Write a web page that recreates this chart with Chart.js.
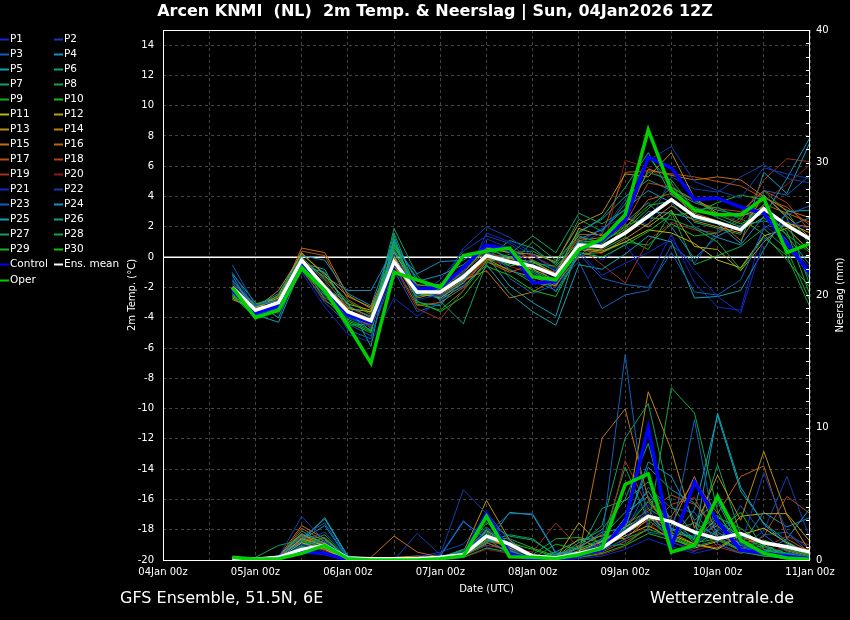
<!DOCTYPE html>
<html>
<head>
<meta charset="utf-8">
<script src="https://cdn.jsdelivr.net/npm/chart.js@4"></script>
<style>
html,body{margin:0;padding:0;background:#000;}
canvas{display:block;}
</style>
</head>
<body>
<canvas id="c" width="850" height="620"></canvas>
<script>
// ---------- DATA ----------
const titleText = 'Arcen KNMI  (NL)  2m Temp. & Neerslag | Sun, 04Jan2026 12Z';
const footerLeft = 'GFS Ensemble, 51.5N, 6E';
const footerRight = 'Wetterzentrale.de';
const xTitle = 'Date (UTC)';
const yTitle = '2m Temp. (°C)';
const y2Title = 'Neerslag (mm)';
const xLabels = ['04Jan 00z','05Jan 00z','06Jan 00z','07Jan 00z','08Jan 00z','09Jan 00z','10Jan 00z','11Jan 00z'];
// forecast hours since 04Jan 00z
const hours = [18,24,30,36,42,48,54,60,66,72,78,84,90,96,102,108,114,120,126,132,138,144,150,156,162,168];

// 2m temperature (°C)
const T_P1  = [-1.8,-3.4,-3.2,-0.5,-2.6,-4.0,-4.6,-0.8,-2.8,-2.5,-1.0,1.2,0.6,-0.5,-1.6,0.4,-1.2,-0.4,0.3,1.2,-0.9,-2.6,-3.7,1.1,2.4,1.8];
const T_P2  = [-2.2,-3.6,-3.4,-0.2,-1.6,-3.8,-4.4,0.2,-2.5,-2.0,0.6,2.0,1.3,0.2,-1.0,0.9,1.6,3.8,6.4,7.3,5.0,4.4,3.9,5.9,5.5,5.2];
const T_P3  = [-0.5,-3.2,-2.8,-0.1,-2.2,-4.8,-5.4,-0.2,-2.1,-2.6,-1.6,0.4,-0.8,-1.5,-2.2,0.2,-1.4,-1.8,-2.0,0.3,-2.3,-2.5,-1.5,1.9,2.8,3.4];
const T_P4  = [-1.6,-3.3,-2.4,0.1,-0.2,-2.4,-3.2,1.1,-1.6,-1.2,-0.5,0.8,-0.2,-1.0,-1.8,1.2,1.8,3.2,4.4,3.6,2.0,1.3,0.8,2.7,5.2,7.9];
const T_P5  = [-1.2,-3.8,-4.3,-0.6,-1.0,-3.2,-4.0,0.5,-2.0,-2.8,-1.9,-0.5,-2.4,-3.6,-4.5,-0.5,-0.8,0.2,1.4,1.0,-2.7,-2.6,-2.2,0.5,3.0,3.1];
const T_P6  = [-2.0,-3.2,-2.9,-0.4,-2.0,-3.0,-5.9,1.4,-3.0,-3.2,-1.4,0.3,-0.6,-0.2,-0.9,1.6,2.6,4.6,6.9,4.1,3.3,2.6,2.0,3.5,1.4,-0.5];
const T_P7  = [-2.4,-3.7,-3.3,-0.7,-2.4,-3.9,-4.3,1.9,-1.2,-2.9,-4.4,-0.4,0.2,1.4,0.3,2.9,2.2,3.1,5.6,5.1,3.1,3.3,2.5,4.1,2.6,-1.9];
const T_P8  = [-2.6,-3.9,-3.1,-0.5,-2.8,-4.1,-4.8,0.9,-2.6,-2.2,-1.1,0.0,-0.5,1.0,-0.2,1.4,0.9,2.1,2.6,2.5,1.9,1.0,-0.8,1.3,0.1,-3.3];
const T_P9  = [-2.3,-3.1,-2.6,0.0,-1.4,-2.9,-3.8,0.7,-1.9,-1.8,-0.9,0.5,0.0,-0.4,-0.6,1.0,1.1,1.8,3.2,4.6,3.8,2.8,2.2,2.9,1.7,-2.5];
const T_P10 = [-2.5,-4.0,-3.6,-0.9,-2.5,-4.3,-5.0,1.2,-2.9,-3.6,-2.6,-0.6,-1.2,-2.2,-2.6,0.3,0.0,0.8,1.7,2.8,2.9,3.6,4.1,3.8,0.6,-1.0];
const T_P11 = [-2.1,-3.3,-2.7,-0.2,-1.8,-3.4,-3.6,0.0,-2.2,-2.4,-1.2,0.2,-0.4,-0.8,-1.5,0.6,0.4,1.0,1.8,1.6,0.9,-0.2,-0.7,1.4,1.9,0.4];
const T_P12 = [-2.7,-3.5,-2.5,0.3,-1.2,-3.1,-3.5,-0.6,-2.4,-2.7,-1.7,-0.2,-0.1,-0.3,-1.1,1.9,1.4,2.6,2.0,3.1,0.7,0.5,-0.9,1.0,2.3,1.6];
const T_P13 = [-2.8,-3.4,-2.2,0.2,-1.1,-2.6,-3.3,0.3,-2.0,-2.1,-0.8,0.6,0.3,0.2,-0.3,2.2,2.9,5.5,5.3,6.9,3.9,2.9,2.7,3.3,2.2,2.0];
const T_P14 = [-2.3,-3.6,-3.0,-0.3,-1.9,-3.6,-4.2,-0.4,-2.7,-2.3,-1.4,-0.1,-0.9,-1.3,-1.9,0.5,0.3,1.2,2.2,3.4,2.4,2.0,1.6,4.1,2.7,1.3];
const T_P15 = [-2.6,-3.3,-2.8,0.6,0.3,-2.5,-3.4,-0.1,-2.1,-2.5,-1.5,-0.9,-2.7,-2.3,-1.4,1.1,1.3,2.4,5.8,5.4,5.1,5.3,5.1,4.0,3.1,2.6];
const T_P16 = [-1.9,-3.1,-2.9,-0.1,-1.5,-3.3,-3.9,-0.5,-3.2,-3.0,-2.0,-0.3,-1.0,-0.5,-1.7,0.0,0.6,1.9,3.8,4.2,2.9,2.4,1.1,3.5,2.9,2.3];
const T_P17 = [-2.2,-3.7,-3.1,0.4,0.1,-2.8,-3.7,-0.1,-1.8,-2.0,-1.0,0.4,0.6,-0.2,-1.2,1.5,1.5,5.6,5.7,5.5,5.3,5.0,4.7,3.9,3.3,2.1];
const T_P18 = [-2.0,-3.4,-2.6,-0.6,-2.7,-3.5,-4.7,-0.3,-2.3,-2.0,-1.3,0.0,-0.3,-0.6,-1.0,1.3,1.0,2.2,4.9,4.6,3.7,3.2,3.0,4.4,3.6,1.7];
const T_P19 = [-1.7,-3.5,-3.2,-0.8,-2.9,-3.7,-4.5,-0.6,-3.4,-4.1,-2.2,0.3,-0.1,0.1,-0.7,0.7,-0.5,-1.7,1.1,2.3,1.8,1.6,2.4,5.1,6.5,6.3];
const T_P20 = [-2.4,-3.6,-3.3,-0.2,-1.9,-3.3,-4.1,-0.2,-2.2,-2.6,-1.6,-0.1,-0.6,-1.1,-2.0,0.8,0.2,6.4,5.9,4.8,3.3,2.9,2.3,3.7,4.8,6.1];
const T_P21 = [-1.4,-3.8,-3.5,-1.0,-3.3,-5.1,-5.6,-2.7,-3.9,-2.9,-1.8,1.6,1.0,0.1,-0.8,0.8,-0.2,0.9,-1.4,1.5,-1.7,-3.3,-3.5,2.1,1.0,-0.7];
const T_P22 = [-2.0,-3.5,-3.0,-0.3,-2.2,-3.7,-4.2,-0.5,-2.6,-1.5,0.4,1.4,0.9,-0.3,-1.4,1.0,1.9,2.7,2.1,5.3,4.5,4.3,5.3,6.1,5.2,4.9];
const T_P23 = [-1.0,-3.4,-3.7,-0.8,-3.0,-4.4,-5.2,-0.9,-3.6,-3.1,-0.6,0.9,-1.4,-2.4,-1.8,-0.3,-3.4,-2.5,-2.2,0.8,-0.4,1.7,2.9,4.4,4.1,5.4];
const T_P24 = [-1.5,-3.2,-2.6,-0.2,-1.3,-2.2,-2.2,0.6,-1.1,-0.3,-0.2,0.7,0.4,-0.7,-2.3,0.1,1.2,2.3,3.6,2.0,-0.1,1.4,2.1,2.4,2.0,2.6];
const T_P25 = [-1.1,-3.0,-4.0,-0.4,-0.8,-3.6,-4.9,0.8,-1.4,-2.4,-1.4,0.1,-1.9,-3.0,-3.9,0.9,0.8,1.5,3.0,2.9,2.5,2.2,0.9,5.6,4.2,7.6];
const T_P26 = [-2.2,-3.5,-2.9,-0.1,-2.1,-4.5,-4.4,1.6,-2.3,-2.7,-1.6,-0.1,1.1,0.6,-0.5,1.7,2.5,4.0,5.1,4.4,3.6,3.1,2.8,2.9,1.1,-1.4];
const T_P27 = [-2.5,-3.6,-3.2,-0.6,-2.3,-4.0,-4.6,1.0,-2.4,-2.1,-1.0,0.6,0.3,0.4,-0.4,2.5,1.7,3.5,6.6,4.9,2.3,1.9,1.5,4.4,3.0,0.8];
const T_P28 = [-2.3,-3.8,-3.4,-0.5,-2.4,-3.9,-4.5,0.4,-2.4,-2.3,-1.2,0.2,0.0,-0.9,-1.6,0.6,0.5,1.3,0.5,3.0,-0.5,0.1,0.7,1.9,0.5,-2.9];
const T_P29 = [-2.4,-3.9,-3.5,-0.3,-2.2,-4.2,-4.9,0.2,-3.1,-3.5,-2.2,-0.3,-0.8,-1.7,-1.9,0.2,0.3,1.0,0.8,2.2,1.4,1.6,2.6,1.5,-0.2,-2.0];
const T_P30 = [-2.1,-3.4,-3.3,-0.4,-2.0,-3.5,-4.2,0.0,-2.5,-2.6,-1.5,0.0,-0.4,-0.3,-1.1,1.0,1.0,2.0,3.4,3.7,2.6,2.4,1.8,2.6,1.5,0.3];
const T_CTRL = [-2.2,-3.7,-3.2,-0.3,-2.1,-3.8,-4.3,-0.4,-2.1,-2.0,-0.7,0.8,0.5,-1.7,-1.6,0.5,1.1,2.4,6.6,5.9,3.8,3.9,3.3,2.9,0.9,-1.1];
const T_MEAN = [-2.0,-3.5,-3.0,-0.2,-2.0,-3.6,-4.2,-0.3,-2.3,-2.3,-1.3,0.1,-0.3,-0.6,-1.2,0.8,0.7,1.6,2.7,3.8,2.7,2.3,1.8,3.2,2.1,1.2];
const T_OPER = [-2.0,-4.0,-3.5,-0.7,-2.2,-4.5,-7.0,-1.0,-1.5,-2.0,0.1,0.4,0.6,-1.3,-1.5,0.5,1.2,2.8,8.4,4.4,3.1,2.8,2.8,3.9,0.3,0.9];

// precipitation (mm / 6h)
const P_P1  = [0,0,0.1,1.2,0.6,0,0,0,0,0.1,0.3,2.4,1.0,0,0,0.2,0.8,1.5,4.2,1.3,0.9,3.1,1.2,0.4,0.2,0.1];
const P_P2  = [0,0,0.2,3.3,1.4,0.1,0.1,0,2.0,0.4,5.3,3.5,0.8,0.2,0,0.5,1.2,2.3,3.6,1.4,0.6,2.4,1.0,6.6,2.1,0.8];
const P_P3  = [0.1,0,0.2,1.8,2.8,0.1,0,0,0.2,0.2,0.6,3.6,1.4,0.1,0,0.3,1.6,15.5,2.1,1.8,10.6,1.2,0.5,1.9,0.6,0.2];
const P_P4  = [0,0.1,0.1,1.0,1.5,0.2,0,0.1,0.1,0.3,2.9,1.6,0.5,0.1,0.1,0.9,2.1,2.4,7.4,6.3,3.0,4.4,0.9,0.6,1.6,3.9];
const P_P5  = [0.2,0,0.3,1.4,3.2,0.3,0.1,0,0.1,0.1,0.4,1.2,3.6,3.4,0.5,0.6,0.9,3.2,5.2,2.4,1.6,11.1,5.5,2.7,1.2,0.6];
const P_P6  = [0,0,0.1,2.2,1.2,0,0,0,0,0.2,0.8,2.1,1.1,0.4,0.2,1.3,2.3,4.6,8.8,2.2,2.8,1.8,0.7,1.1,0.4,0.2];
const P_P7  = [0,0.2,1.1,1.5,0.9,0.1,0,0,0,0.3,0.5,1.4,1.9,1.6,0.3,1.1,2.6,9.2,11.8,4.1,1.9,3.4,1.2,0.6,0.8,0.3];
const P_P8  = [0,0,0,0.6,0.4,0,0,0,0,0.1,0.2,0.9,0.6,0.2,0,0.4,1.0,1.2,2.4,13.0,11.1,3.7,0.6,0.3,0.1,0];
const P_P9  = [0,0,0.1,1.1,1.7,0.1,0,0,0,0.2,0.7,2.5,0.7,0.1,1.2,0.8,1.6,2.2,3.9,2.8,1.3,1.6,0.8,1.5,0.9,0.4];
const P_P10 = [0,0,0,0.8,1.0,0,0,0,0,0,0.3,1.5,1.3,0.8,0.2,0.2,0.5,1.1,2.0,1.5,1.1,2.2,3.6,0.8,0.3,0.1];
const P_P11 = [0,0,0.1,1.3,0.8,0,0,0,0,0.1,0.4,1.8,0.9,0.2,0.1,0.7,1.4,2.5,3.4,1.9,1.2,0.8,1.9,2.4,1.3,0.5];
const P_P12 = [0,0,0.2,1.6,1.1,0.1,0,0,0,0.2,0.5,2.2,1.2,0.3,0.1,2.8,1.0,1.8,2.6,1.6,0.9,1.4,3.3,3.5,3.5,1.4];
const P_P13 = [0,0,0.1,1.9,1.3,0,0,0.2,0.3,0.1,0.6,4.5,1.5,0.2,0.2,1.6,0.8,2.8,12.7,8.3,2.4,6.4,3.0,8.2,3.4,0.6];
const P_P14 = [0,0,0.3,2.0,0.9,0,0,0,0,0.1,0.3,1.9,0.8,0.2,0.1,1.0,1.9,1.6,3.1,2.6,6.3,1.8,1.3,1.5,0.7,0.2];
const P_P15 = [0,0,0.2,2.6,1.6,0.1,0.2,1.8,0.6,0.2,0.4,1.6,1.0,0.3,0.1,0.4,9.2,11.4,4.6,2.1,1.2,0.9,2.0,1.4,0.8,0.3];
const P_P16 = [0,0,0.1,1.7,1.1,0,0,0,0,0.1,0.3,1.3,0.7,0.1,0,0.3,0.9,2.0,3.0,3.3,6.0,3.5,6.3,7.1,1.6,0.6];
const P_P17 = [0,0,0.1,2.4,1.4,0.1,0,0,0,0.1,0.2,1.7,0.9,0.4,0.1,0.5,1.2,2.7,3.7,4.9,4.2,2.5,1.7,1.2,0.9,0.4];
const P_P18 = [0,0,0.2,1.5,1.2,0,0,0,0,0.2,0.4,1.4,1.1,0.3,0.2,0.3,0.6,1.4,2.3,4.2,4.7,1.6,0.8,1.8,4.8,3.5];
const P_P19 = [0,0,0,1.3,0.7,0,0,0,0,0.1,0.3,1.1,0.8,0.6,2.8,0.9,0.5,7.5,3.9,1.1,2.9,1.0,0.5,0.9,1.8,1.1];
const P_P20 = [0,0,0.1,0.9,0.8,0,0,0,0,0,0.2,0.8,0.5,0.1,0,0.2,0.4,1.0,2.8,1.4,0.7,1.2,0.6,0.4,1.1,0.8];
const P_P21 = [0,0,0.1,0.7,0.5,0,0,0,0.3,0.4,3.0,1.0,0.4,0.1,0,0.1,0.3,0.8,1.6,1.0,0.5,0.9,1.4,0.7,0.3,0.1];
const P_P22 = [0,0,0.2,1.4,2.1,0.2,0.1,0.1,0.2,0.6,1.2,3.2,1.6,0.3,0.1,0.6,1.3,2.6,4.5,3.1,1.4,2.0,0.9,2.2,6.3,1.6];
const P_P23 = [0,0,0.1,1.2,1.3,0.1,0,0,0,0.2,0.6,2.0,3.5,3.5,0.6,0.5,1.1,2.1,5.5,3.9,3.6,1.3,4.1,1.9,2.1,0.5];
const P_P24 = [0.1,0,0.3,1.5,2.6,0.1,0,0,0,0.1,0.4,1.5,1.0,0.3,0.4,0.9,1.4,2.5,7.0,5.3,4.3,2.1,1.1,3.6,2.5,3.2];
const P_P25 = [0,0.1,0.2,1.6,3.1,0.2,0,0,0,0.2,0.5,2.3,1.3,0.2,0.1,0.5,1.5,2.3,3.3,1.6,3.8,10.9,5.2,2.8,1.4,0.4];
const P_P26 = [0,0,0.2,1.9,1.6,0.1,0,0,0,0.1,0.3,1.3,0.6,0.1,0.6,1.5,1.8,3.6,4.8,2.0,1.8,2.6,1.1,0.7,0.4,0.2];
const P_P27 = [0,0.1,0.3,1.8,1.2,0,0,0,0,0.1,0.5,2.8,1.8,1.5,0.4,0.6,3.9,4.5,5.9,3.0,1.6,7.2,1.9,0.8,0.5,0.2];
const P_P28 = [0,0,0.1,1.3,1.9,0.1,0,0,0.1,0.1,0.8,1.9,0.7,0.4,1.6,1.7,1.3,7.0,3.0,1.7,1.0,1.5,0.7,0.3,0.2,0.1];
const P_P29 = [0,0,0.1,1.0,0.9,0,0,0,0,0.1,0.4,1.7,1.6,0.9,0.3,0.4,0.7,1.6,2.3,1.8,1.1,2.9,1.8,1.0,0.3,0.2];
const P_P30 = [0,0,0.2,1.4,1.0,0,0,0,0,0.1,0.4,2.0,1.0,0.2,0.1,0.3,1.1,2.4,4.4,2.3,1.5,3.2,2.4,1.1,0.5,0.2];
const P_CTRL = [0,0,0.1,0.6,0.5,0,0,0,0,0.1,0.3,3.5,0.5,0,0,0.4,0.75,2.9,10.0,1.0,5.9,2.9,0.75,0.5,0.3,0.1];
const P_MEAN = [0.1,0.05,0.2,0.8,1.1,0.15,0.1,0.1,0.1,0.2,0.4,1.8,1.2,0.3,0.15,0.5,0.9,2.1,3.3,2.9,2.1,1.6,2.0,1.3,1.0,0.6];
const P_OPER = [0.2,0.05,0.1,0.5,1.1,0.1,0,0,0,0.1,0.3,3.3,0.25,0.2,0.1,0.4,0.9,5.7,6.5,0.6,1.1,4.8,1.5,0.5,0.15,0.05];

const memberNames = ['P1','P2','P3','P4','P5','P6','P7','P8','P9','P10','P11','P12','P13','P14','P15','P16','P17','P18','P19','P20','P21','P22','P23','P24','P25','P26','P27','P28','P29','P30'];
const tempMembers = [T_P1,T_P2,T_P3,T_P4,T_P5,T_P6,T_P7,T_P8,T_P9,T_P10,T_P11,T_P12,T_P13,T_P14,T_P15,T_P16,T_P17,T_P18,T_P19,T_P20,T_P21,T_P22,T_P23,T_P24,T_P25,T_P26,T_P27,T_P28,T_P29,T_P30];
const precMembers = [P_P1,P_P2,P_P3,P_P4,P_P5,P_P6,P_P7,P_P8,P_P9,P_P10,P_P11,P_P12,P_P13,P_P14,P_P15,P_P16,P_P17,P_P18,P_P19,P_P20,P_P21,P_P22,P_P23,P_P24,P_P25,P_P26,P_P27,P_P28,P_P29,P_P30];
const yTicksLeft = [-20,-18,-16,-14,-12,-10,-8,-6,-4,-2,0,2,4,6,8,10,12,14];

// ---------- STYLE ----------
const palette = ['rgb(16,40,200)','rgb(16,64,176)','rgb(16,96,184)','rgb(16,144,192)','rgb(16,160,176)',
  'rgb(16,160,128)','rgb(16,160,96)','rgb(16,168,64)','rgb(24,176,32)','rgb(16,192,16)',
  'rgb(184,184,16)','rgb(184,160,16)','rgb(184,144,16)','rgb(192,128,16)','rgb(192,112,16)',
  'rgb(192,96,16)','rgb(184,80,16)','rgb(184,64,32)','rgb(160,48,32)','rgb(144,24,24)'];
const CTRL_COL = '#0000ff', MEAN_COL = '#ffffff', OPER_COL = '#00d000';
const FONT = '"DejaVu Sans", sans-serif';

function pts(arr){ return hours.map((h,i)=>({x:h,y:arr[i]})); }
function ds(label, arr, axis, color, width, order){
  return {label, data:pts(arr), yAxisID:axis, borderColor:color, borderWidth:width,
          pointRadius:0, tension:0, fill:false, order, borderJoinStyle:'miter'};
}
const datasets = [];
datasets.push(ds('Oper', T_OPER, 'y', OPER_COL, 3.5, 0));
datasets.push(ds('Oper', P_OPER, 'y2', OPER_COL, 3.5, 0));
datasets.push(ds('Ens. mean', T_MEAN, 'y', MEAN_COL, 3.5, 1));
datasets.push(ds('Ens. mean', P_MEAN, 'y2', MEAN_COL, 3.5, 1));
datasets.push(ds('Control', T_CTRL, 'y', CTRL_COL, 3.5, 2));
datasets.push(ds('Control', P_CTRL, 'y2', CTRL_COL, 3.5, 2));
memberNames.forEach((n,k)=>{
  const col = palette[k % 20];
  datasets.push(ds(n, tempMembers[k], 'y', col, 1, 3+k));
  datasets.push(ds(n, precMembers[k], 'y2', col, 1, 3+k));
});

const deco = {
  id:'deco',
  beforeDraw(chart){
    const c = chart.ctx; c.save(); c.fillStyle='#000'; c.fillRect(0,0,chart.width,chart.height); c.restore();
  },
  beforeDatasetsDraw(chart){
    const c = chart.ctx, a = chart.chartArea, y0 = chart.scales.y.getPixelForValue(0);
    c.save(); c.strokeStyle='#fff'; c.lineWidth=1.5; c.beginPath();
    c.moveTo(a.left,y0); c.lineTo(a.right,y0); c.stroke(); c.restore();
  },
  afterDraw(chart){
    const c = chart.ctx, a = chart.chartArea;
    c.save();
    // frame
    c.strokeStyle='#fff'; c.lineWidth=1;
    c.strokeRect(a.left+0.5, a.top+0.5, a.right-a.left-1, a.bottom-a.top);
    // right axis minor ticks (inside)
    const s2 = chart.scales.y2;
    c.beginPath();
    s2.ticks.forEach(t=>{ const y=Math.round(s2.getPixelForValue(t.value))+0.5; c.moveTo(a.right-4,y); c.lineTo(a.right,y); });
    c.stroke();
    c.fillStyle='#fff';
    // title
    c.font='bold 16px '+FONT; c.textAlign='center'; c.textBaseline='middle';
    c.fillText(titleText, 435, 12);
    // footer
    c.font='16px '+FONT; c.textAlign='left';
    c.fillText(footerLeft, 120, 599);
    c.fillText(footerRight, 650, 599);
    // axis titles
    c.font='10px '+FONT; c.textAlign='center';
    c.fillText(xTitle, (a.left+a.right)/2, 589);
    const cy = (a.top+a.bottom)/2;
    c.save(); c.translate(132, cy); c.rotate(-Math.PI/2); c.fillText(yTitle,0,0); c.restore();
    c.save(); c.translate(840, cy); c.rotate(-Math.PI/2); c.fillText(y2Title,0,0); c.restore();
    // legend
    const entries = memberNames.map((n,k)=>({n, col:palette[k%20]}));
    entries.push({n:'Control', col:CTRL_COL},{n:'Ens. mean', col:MEAN_COL},{n:'Oper', col:OPER_COL});
    c.font='10.5px '+FONT; c.textAlign='left'; c.textBaseline='middle';
    entries.forEach((e,i)=>{
      const col = i%2, row = Math.floor(i/2);
      const x0 = col===0 ? 0 : 54;
      const y = 39.5 + row*15 + (row===16 ? 1 : 0);
      c.strokeStyle=e.col; c.lineWidth=2; c.beginPath(); c.moveTo(x0,y); c.lineTo(x0+9,y); c.stroke();
      c.fillStyle='#fff'; c.fillText(e.n, x0+10, y);
    });
    c.restore();
  }
};

const gridCol = '#444444';
new Chart(document.getElementById('c'), {
  type:'line',
  data:{datasets},
  options:{
    responsive:false, animation:false, devicePixelRatio:1, events:[],
    layout:{padding:{top:30,left:0,right:0,bottom:0}},
    plugins:{legend:{display:false}, tooltip:{enabled:false}, title:{display:false}},
    scales:{
      x:{type:'linear', min:0, max:168,
         ticks:{stepSize:12, autoSkip:false, maxRotation:0, color:'#fff', font:{family:FONT,size:10}, padding:6,
                callback:(v)=> (v%24===0 ? xLabels[v/24] : '')},
         grid:{color:gridCol, lineWidth:1, drawTicks:false},
         border:{display:false, dash:[3,3]},
         afterFit:(s)=>{s.height=60;}},
      y:{type:'linear', position:'left', min:-20, max:15,
         afterBuildTicks:(s)=>{ s.ticks = yTicksLeft.map(v=>({value:v})); },
         ticks:{color:'#fff', font:{family:FONT,size:10}, padding:9, autoSkip:false},
         grid:{color:gridCol, lineWidth:1, drawTicks:false},
         border:{display:false, dash:[3,3]},
         afterFit:(s)=>{s.width=163;}},
      y2:{type:'linear', position:'right', min:0, max:40,
         ticks:{stepSize:1, autoSkip:false, includeBounds:false, color:'#fff', font:{family:FONT,size:10}, padding:6,
                callback:(v)=> (v%10===0 ? String(v) : '')},
         grid:{drawOnChartArea:false, drawTicks:false},
         border:{display:false},
         afterFit:(s)=>{s.width=40;}}
    }
  },
  plugins:[deco]
});
</script>
</body>
</html>
